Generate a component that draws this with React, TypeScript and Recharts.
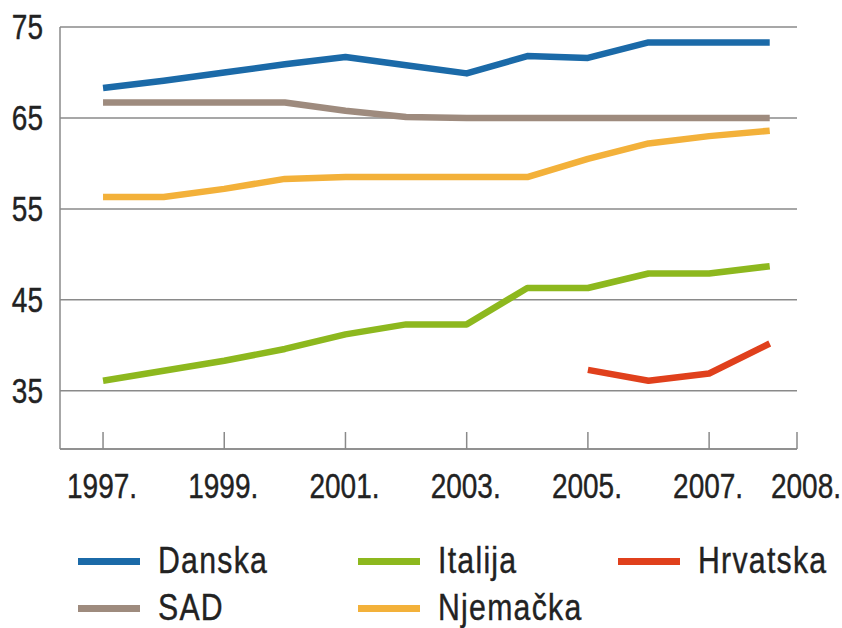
import React from 'react'
import { LineChart, Line, XAxis, YAxis, CartesianGrid } from 'recharts'

const years = [1997, 1998, 1999, 2000, 2001, 2002, 2003, 2004, 2005, 2006, 2007, 2008]
const danska = [68.3, 69.1, 70.0, 70.9, 71.7, 70.8, 69.9, 71.8, 71.6, 73.3, 73.3, 73.3]
const sad = [66.7, 66.7, 66.7, 66.7, 65.8, 65.1, 65.0, 65.0, 65.0, 65.0, 65.0, 65.0]
const njemacka = [56.3, 56.3, 57.2, 58.3, 58.5, 58.5, 58.5, 58.5, 60.5, 62.2, 63.0, 63.6]
const italija = [36.1, 37.2, 38.3, 39.6, 41.2, 42.3, 42.3, 46.3, 46.3, 47.9, 47.9, 48.7]
const hrvatska = [null, null, null, null, null, null, null, null, 37.3, 36.1, 36.9, 40.2]

const yTicks = [35, 45, 55, 65, 75]
const xTicks = [1997, 1999, 2001, 2003, 2005, 2007, 2008.45]
const xTickLabels = ['1997.', '1999.', '2001.', '2003.', '2005.', '2007.', '2008.']

const series = [
  { key: 'danska', name: 'Danska', color: '#1b6aa8' },
  { key: 'sad', name: 'SAD', color: '#9e8b7e' },
  { key: 'italija', name: 'Italija', color: '#8db81e' },
  { key: 'njemacka', name: 'Njemačka', color: '#f3b13a' },
  { key: 'hrvatska', name: 'Hrvatska', color: '#e0401c' },
]

const data = years.map((g, i) => ({
  godina: g,
  danska: danska[i],
  sad: sad[i],
  njemacka: njemacka[i],
  italija: italija[i],
  hrvatska: hrvatska[i],
}))

// uski font: Liberation Sans stisnut po širini
const font = "'Liberation Sans', Arial, sans-serif"
const squeeze = 0.8
const gray = '#8a8a8a'

function XTick(props: any) {
  const { x, y, payload, index } = props
  const last = index === xTicks.length - 1
  return (
    <g>
      <line x1={x} x2={x} y1={y - 17} y2={y} stroke={gray} strokeWidth={1.5} />
      <text
        transform={`translate(${x + (last ? 9 : -1)},${y + 49}) scale(${squeeze},1)`}
        textAnchor="middle"
        fontSize={35}
        fill="#222"
        stroke="#222"
        strokeWidth={0.4}
        fontFamily={font}
      >
        {xTickLabels[index] ?? String(Math.floor(payload.value)) + '.'}
      </text>
    </g>
  )
}

function YTick(props: any) {
  const { x, y, payload } = props
  return (
    <text
      transform={`translate(${x},${y + 12}) scale(${squeeze},1)`}
      textAnchor="end"
      fontSize={35}
      fill="#222"
      stroke="#222"
      strokeWidth={0.4}
      fontFamily={font}
    >
      {payload.value}
    </text>
  )
}

// raspored legende kao na originalu
const legendPos: Record<string, { left: number; top: number }> = {
  danska: { left: 78, top: 561 },
  sad: { left: 78, top: 608 },
  italija: { left: 358, top: 561 },
  njemacka: { left: 358, top: 608 },
  hrvatska: { left: 618, top: 561 },
}

function Legenda() {
  return (
    <>
      {series.map((s) => {
        const p = legendPos[s.key]
        return (
          <div
            key={s.key}
            style={{
              position: 'absolute',
              left: p.left,
              top: p.top - 20,
              height: 40,
              display: 'flex',
              alignItems: 'center',
              whiteSpace: 'nowrap',
            }}
          >
            <span style={{ display: 'inline-block', width: 62, height: 7, background: s.color, marginRight: 18 }} />
            <span
              style={{
                display: 'inline-block',
                fontFamily: font,
                fontSize: 36,
                color: '#222',
                letterSpacing: 1.5,
                WebkitTextStroke: '0.4px #222',
                transform: `scaleX(0.84)`,
                transformOrigin: 'left center',
              }}
            >
              {s.name}
            </span>
          </div>
        )
      })}
    </>
  )
}

export default function App() {
  return (
    <div style={{ position: 'absolute', left: 0, top: 0, width: 842, height: 628, background: '#fff' }}>
      <LineChart width={842} height={520} data={data} margin={{ top: 27, right: 45, left: 0, bottom: 0 }}>
        <CartesianGrid vertical={false} stroke={gray} strokeWidth={1.5} />
        <XAxis
          dataKey="godina"
          type="number"
          domain={[1996.29, 2008.45]}
          ticks={xTicks}
          interval={0}
          height={71}
          tickSize={0}
          tickMargin={0}
          tickLine={false}
          axisLine={{ stroke: gray, strokeWidth: 1.5 }}
          tick={<XTick />}
        />
        <YAxis
          domain={[28.6, 75]}
          ticks={yTicks}
          width={60}
          tickSize={0}
          tickMargin={17}
          tickLine={false}
          axisLine={{ stroke: gray, strokeWidth: 1.5 }}
          tick={<YTick />}
        />
        {series.map((s) => (
          <Line
            key={s.key}
            type="linear"
            dataKey={s.key}
            name={s.name}
            stroke={s.color}
            strokeWidth={6.5}
            dot={false}
            activeDot={false}
            isAnimationActive={false}
            strokeLinejoin="round"
          />
        ))}
      </LineChart>
      <Legenda />
    </div>
  )
}
